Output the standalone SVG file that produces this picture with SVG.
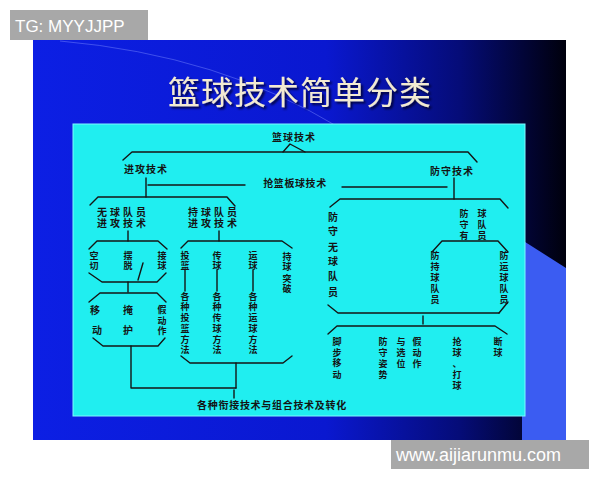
<svg xmlns="http://www.w3.org/2000/svg" width="600" height="480" viewBox="0 0 600 480">
<defs>
<linearGradient id="slideBg" x1="0" y1="0" x2="1" y2="0">
<stop offset="0" stop-color="#0c1fe4"/>
<stop offset="0.55" stop-color="#0a18d0"/>
<stop offset="0.8" stop-color="#050c78"/>
<stop offset="1" stop-color="#00000c"/>
</linearGradient>
<filter id="shadow" x="-10%" y="-30%" width="120%" height="160%">
<feDropShadow dx="2" dy="2" stdDeviation="0.8" flood-color="#000028" flood-opacity="0.9"/>
</filter>
<style>
.t{font-family:"Noto Sans CJK SC","Noto Sans CJK JP",sans-serif;font-weight:700;font-size:10px;fill:#141414;text-anchor:middle}
.v{font-size:9px}
.h{letter-spacing:1px}
.ln{fill:none;stroke:#141414;stroke-width:1.4;stroke-linecap:round;stroke-linejoin:round}
.wm{font-family:"Liberation Sans",Arial,sans-serif;fill:#ffffff}
</style>
</defs>
<rect width="600" height="480" fill="#ffffff"/>
<!-- slide -->
<rect x="33" y="40" width="533" height="400" fill="url(#slideBg)"/>
<path d="M60 41 Q220 55 340 128" fill="none" stroke="#7f8fff" stroke-opacity="0.45" stroke-width="1"/>
<polygon points="522,240 566,268 566,440 522,440" fill="#3b5cf2"/>
<text x="300" y="104" font-family="'Noto Sans CJK SC',sans-serif" font-size="32" fill="#f2ead2" text-anchor="middle" letter-spacing="1" filter="url(#shadow)">篮球技术简单分类</text>
<rect x="73" y="124" width="452" height="292" fill="#20eef0" stroke="#7ff8ff" stroke-width="1"/>
<!-- watermarks -->
<rect x="10" y="10" width="138" height="30" fill="#a8a8a8"/>
<text class="wm" x="15" y="32" font-size="17">TG: MYYJJPP</text>
<rect x="391" y="440" width="198" height="29" fill="#a8a8a8"/>
<text class="wm" x="396" y="461" font-size="18">www.aijiarunmu.com</text>

<g id="connectors">
<path class="ln" d="M283 152 L290 144 L305 152"/>
<path class="ln" d="M123 160 L132 152 L468 152 L477 162"/>
<path class="ln" d="M146 178 L146 197"/>
<path class="ln" d="M148 185 L245 185"/>
<path class="ln" d="M342 187 L447 187"/>
<path class="ln" d="M454 178 L454 199"/>
<path class="ln" d="M90 205 L98 197 L227 197 L235 206"/>
<path class="ln" d="M330 207 L340 199 L500 199 L508 208"/>
<path class="ln" d="M128 231 L128 241"/>
<path class="ln" d="M219 231 L219 241"/>
<path class="ln" d="M89 249 L97 241 L158 241 L167 249"/>
<path class="ln" d="M89 273 L102 282 L157 282 L166 273"/>
<path class="ln" d="M143 263 L138 280"/>
<path class="ln" d="M128 282 L128 292"/>
<path class="ln" d="M89 302 L100 293 L157 293 L166 302"/>
<path class="ln" d="M93 338 L103 346 L158 346 L165 338"/>
<path class="ln" d="M131 346 L131 388 L236 388"/>
<path class="ln" d="M181 248 L188 241 L282 241 L292 248"/>
<path class="ln" d="M181 356 L190 363 L283 363 L292 356"/>
<path class="ln" d="M185 270 L185 291"/>
<path class="ln" d="M217 270 L217 291"/>
<path class="ln" d="M253 270 L253 291"/>
<path class="ln" d="M236 363 L236 388"/>
<path class="ln" d="M234 390 L234 398"/>
<path class="ln" d="M432 252 L442 241 L498 241 L508 252"/>
<path class="ln" d="M508 302 L499 313"/>
<path class="ln" d="M328 305 L338 313 L499 313"/>
<path class="ln" d="M423 316 L423 324"/>
<path class="ln" d="M328 334 L337 326 L495 326 L507 334"/>
</g>

<g id="node-root"><text class="t h" x="294" y="141" font-size="10.5">篮球技术</text></g>
<g id="node-attack"><text class="t h" x="146" y="173" font-size="10.5">进攻技术</text></g>
<g id="node-rebound"><text class="t" x="295" y="187" font-size="10.5" letter-spacing="0.6">抢篮板球技术</text></g>
<g id="node-defense"><text class="t h" x="452" y="175" font-size="11">防守技术</text></g>
<g id="node-offball"><text class="t" x="123" y="215.5" font-size="8.5" letter-spacing="3">无球队员</text><text class="t" x="123" y="226.5" font-size="8.5" letter-spacing="3">进攻技术</text></g>
<g id="node-onball"><text class="t" x="214" y="215.5" font-size="8.5" letter-spacing="3">持球队员</text><text class="t" x="214" y="226.5" font-size="8.5" letter-spacing="3">进攻技术</text></g>

<g id="node-box1">
<text class="t v"><tspan x="94" y="258.5">空</tspan><tspan x="94" y="268.5">切</tspan></text>
<text class="t v"><tspan x="128" y="258.5">摆</tspan><tspan x="128" y="268.5">脱</tspan></text>
<text class="t v"><tspan x="162" y="258.5">接</tspan><tspan x="162" y="268.5">球</tspan></text>
</g>
<g id="node-box2">
<text class="t"><tspan x="95" y="314">移</tspan><tspan x="97" y="334">动</tspan></text>
<text class="t"><tspan x="128" y="314">掩</tspan><tspan x="128" y="334">护</tspan></text>
<text class="t v"><tspan x="162" y="313">假</tspan><tspan x="162" y="323.5">动</tspan><tspan x="162" y="334">作</tspan></text>
</g>
<g id="node-onball-box">
<text class="t v"><tspan x="185" y="258.5">投</tspan><tspan x="185" y="268.5">篮</tspan></text>
<text class="t v"><tspan x="185" y="299.5">各</tspan><tspan x="185" y="310">种</tspan><tspan x="185" y="321">投</tspan><tspan x="185" y="332">篮</tspan><tspan x="185" y="342.5">方</tspan><tspan x="185" y="353">法</tspan></text>
<text class="t v"><tspan x="217" y="258.5">传</tspan><tspan x="217" y="268.5">球</tspan></text>
<text class="t v"><tspan x="217" y="299.5">各</tspan><tspan x="217" y="310">种</tspan><tspan x="217" y="321">传</tspan><tspan x="217" y="332">球</tspan><tspan x="217" y="342.5">方</tspan><tspan x="217" y="353">法</tspan></text>
<text class="t v"><tspan x="253" y="258.5">运</tspan><tspan x="253" y="268.5">球</tspan></text>
<text class="t v"><tspan x="253" y="299.5">各</tspan><tspan x="253" y="310">种</tspan><tspan x="253" y="321">运</tspan><tspan x="253" y="332">球</tspan><tspan x="253" y="342.5">方</tspan><tspan x="253" y="353">法</tspan></text>
<text class="t v"><tspan x="287" y="259.5">持</tspan><tspan x="287" y="270">球</tspan><tspan x="287" y="281.5">突</tspan><tspan x="287" y="292">破</tspan></text>
</g>
<g id="node-combo"><text class="t" x="272" y="409" font-size="10.5" letter-spacing="0.7">各种衔接技术与组合技术及转化</text></g>

<g id="node-def-offball">
<text class="t"><tspan x="333" y="221">防</tspan><tspan x="333" y="235">守</tspan><tspan x="333" y="251">无</tspan><tspan x="333" y="265">球</tspan><tspan x="333" y="280">队</tspan><tspan x="333" y="296">员</tspan></text>
</g>
<g id="node-def-onball">
<text class="t v"><tspan x="464" y="216.5">防</tspan><tspan x="464" y="227.5">守</tspan><tspan x="464" y="239">有</tspan></text>
<text class="t v"><tspan x="482" y="216.5">球</tspan><tspan x="482" y="227.5">队</tspan><tspan x="482" y="239">员</tspan></text>
</g>
<g id="node-def-holder">
<text class="t v"><tspan x="435" y="258.5">防</tspan><tspan x="435" y="270">持</tspan><tspan x="435" y="280.5">球</tspan><tspan x="435" y="291.5">队</tspan><tspan x="435" y="302.5">员</tspan></text>
</g>
<g id="node-def-dribbler">
<text class="t v"><tspan x="504" y="259">防</tspan><tspan x="504" y="270">运</tspan><tspan x="504" y="281">球</tspan><tspan x="504" y="292">队</tspan><tspan x="504" y="302.5">员</tspan></text>
</g>
<g id="node-footwork">
<text class="t v"><tspan x="337" y="344.5">脚</tspan><tspan x="337" y="355.5">步</tspan><tspan x="337" y="366">移</tspan><tspan x="337" y="377.5">动</tspan></text>
</g>
<g id="node-stance">
<text class="t v"><tspan x="383" y="344.5">防</tspan><tspan x="383" y="355.5">守</tspan><tspan x="383" y="366.5">姿</tspan><tspan x="383" y="377.5">势</tspan></text>
<text class="t v"><tspan x="401" y="344.5">与</tspan><tspan x="401" y="355.5">选</tspan><tspan x="401" y="366.5">位</tspan></text>
</g>
<g id="node-fake">
<text class="t v"><tspan x="417" y="344.5">假</tspan><tspan x="417" y="355.5">动</tspan><tspan x="417" y="366.5">作</tspan></text>
</g>
<g id="node-steal">
<text class="t v"><tspan x="457" y="344.5">抢</tspan><tspan x="457" y="355.5">球</tspan><tspan x="457" y="366.5">、</tspan><tspan x="457" y="377.5">打</tspan><tspan x="457" y="388.5">球</tspan></text>
</g>
<g id="node-intercept">
<text class="t v"><tspan x="498" y="344.5">断</tspan><tspan x="498" y="355.5">球</tspan></text>
</g>
</svg>
